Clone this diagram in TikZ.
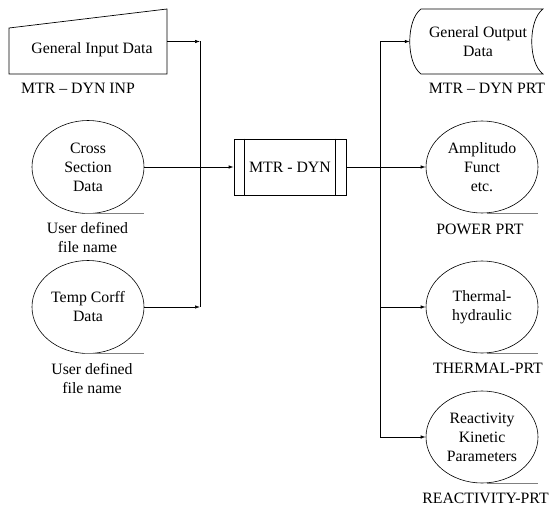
\documentclass[tikz,border=0pt]{standalone}
\usepackage{fontspec}
\setmainfont{Liberation Serif}
\usetikzlibrary{arrows.meta,shapes.geometric,calc}
\begin{document}
\begin{tikzpicture}[x=1pt,y=-1pt,
  txt/.style={font=\fontsize{15.8}{19}\selectfont, align=center, inner sep=0pt},
  dfile/.style={ellipse, draw, line width=0.6pt, minimum width=112pt, minimum height=93pt, inner sep=0pt, txt},
  conn/.style={line width=0.7pt},
  arr/.style={conn, -{Latex[length=5pt,width=3.5pt]}},
  uline/.style={line width=1pt, draw=black!50},
  frame/.style={minimum width=#1, inner sep=0pt, outer sep=0pt}]
\useasboundingbox (0,0) rectangle (549,508);

% General input (manual input shape)
\node[minimum width=158pt, minimum height=65pt, inner sep=0pt, outer sep=0pt] (ginbox) at (88,41.5) {};
\draw[conn] (ginbox.south west) -- (ginbox.south east) -- (ginbox.north east)
  -- ($(ginbox.north west)+(0,19)$) -- cycle;
\node[txt] (gin) at (92,50) {General Input Data};
\node[txt] (ginl) at (78,88) {MTR – DYN INP};

% Cross section data
\node[dfile] (cross) at (88,167) {Cross\\Section\\Data};
\draw[uline] ($(cross.south)+(-3,0)$) -- ($(cross.south)+(56,0)$);
\node[txt] (crossl) at (87.5,237.5) {User defined\\file name};

% Temp corff data
\node[dfile] (temp) at (88,307) {Temp Corff\\Data};
\draw[uline] ($(temp.south)+(-3,0)$) -- ($(temp.south)+(56,0)$);
\node[txt] (templ) at (92,379) {User defined\\file name};

% Main program
\node[draw, line width=0.7pt, minimum width=112pt, minimum height=56pt, txt] (mtr) at (290,167) {MTR - DYN};
\draw[conn] ($(mtr.north west)+(11,0)$) -- ($(mtr.south west)+(11,0)$);
\draw[conn] ($(mtr.north east)+(-11,0)$) -- ($(mtr.south east)+(-11,0)$);

% Left collector
\coordinate (ltop) at (200,41.5);
\coordinate (lbot) at (200,307);
\draw[arr] (ginbox.east) -- (ltop);
\draw[conn] (ltop) -- (lbot);
\draw[arr] (temp.east) -- (lbot);
\draw[arr] (cross.east) -- (mtr.west);

% General output (stored data shape)
\node[minimum width=122pt, minimum height=65pt, inner sep=0pt, outer sep=0pt] (goutbox) at (482,41.5) {};
\draw[conn] (goutbox.north west) -- (goutbox.north east)
  .. controls ($(goutbox.north east)+(-15,11)$) and ($(goutbox.south east)+(-15,-11)$) .. (goutbox.south east)
  -- (goutbox.south west)
  .. controls ($(goutbox.south west)+(-15,-11)$) and ($(goutbox.north west)+(-15,11)$) .. (goutbox.north west);
\coordinate (goutin) at ($(goutbox.west)+(-11.25,0)$);
\node[txt] (gout) at (478,42) {General Output\\Data};
\node[txt] (goutl) at (487,88) {MTR – DYN PRT};

% Output files
\node[dfile, minimum height=92pt] (amp) at (482,167) {Amplitudo\\Funct\\etc.};
\draw[uline] ($(amp.south)+(5,0)$) -- ($(amp.south)+(56,0)$);
\node[txt] (ampl) at (480,229) {POWER PRT};

\node[dfile, minimum height=92pt] (therm) at (482,307) {Thermal-\\hydraulic};
\draw[uline] ($(therm.south)+(5,0)$) -- ($(therm.south)+(56,0)$);
\node[txt] (therml) at (488,368) {THERMAL-PRT};

\node[dfile, minimum height=92pt] (react) at (482,437) {Reactivity\\Kinetic\\Parameters};
\draw[uline] ($(react.south)+(5,0)$) -- ($(react.south)+(56,0)$);
\node[txt] (reactl) at (485.5,498) {REACTIVITY-PRT};

% Right distributor
\coordinate (rtop) at (380,41.5);
\coordinate (rmid) at (380,167);
\coordinate (rbot) at (380,437);
\draw[conn] (mtr.east) -- (rmid);
\draw[conn] (rtop) -- (rbot);
\draw[arr] (rtop) -- (goutin);
\draw[arr] (rmid) -- (amp.west);
\draw[arr] (380,307) -- (therm.west);
\draw[arr] (rbot) -- (react.west);
\end{tikzpicture}
\end{document}
